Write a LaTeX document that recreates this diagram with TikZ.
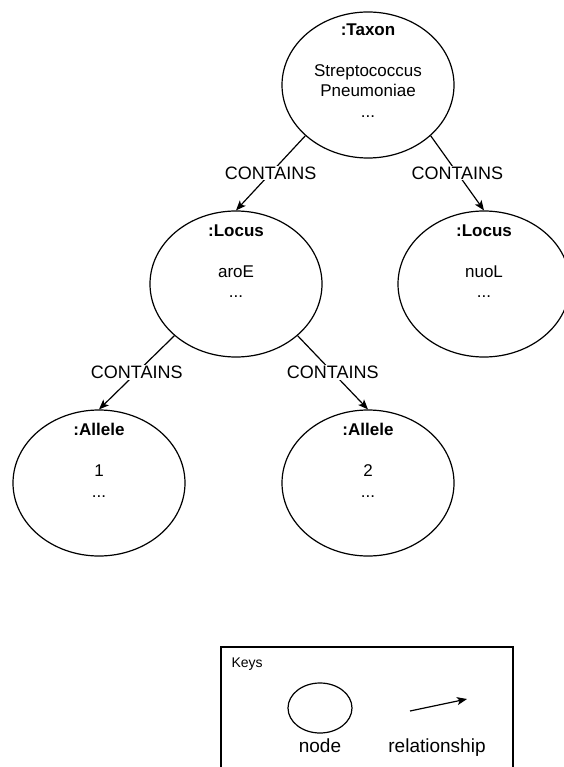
\documentclass[tikz,border=0pt]{standalone}
\usepackage{fontspec}
\setmainfont{Liberation Sans}
\usetikzlibrary{arrows.meta,shapes.geometric,positioning}

\begin{document}
\begin{tikzpicture}[
    x=1pt, y=-1pt,
    entity/.style={draw, ellipse, line width=1.2pt, minimum width=172pt,
    minimum height=146pt, inner sep=0pt},
    entity text/.style={align=center, inner sep=0pt,
    font=\fontsize{17}{20.5}\selectfont},
    rel/.style={line width=1.2pt, ->, >={Stealth[length=10pt, width=8pt, inset=2.5pt]}},
    rel label/.style={fill=white, inner sep=1pt, font=\fontsize{18}{21}\selectfont},
    key label/.style={inner sep=0pt, font=\fontsize{19}{22}\selectfont},
    every node/.style={color=black}
    ]
    \useasboundingbox (0,0) rectangle (563,767);

    % nodes
    \node[entity] (taxon) at (368,85) {};
    \node[entity] (locusA) at (236,284) {};
    \node[entity] (locusB) at (484,284) {};
    \node[entity] (alleleA) at (99,483) {};
    \node[entity] (alleleB) at (368,483) {};

    \node[entity text, below=12pt of taxon.north] (taxontext)
        {\textbf{:Taxon}\\[20.5pt]Streptococcus\\Pneumoniae\\...};
    \node[entity text, below=14pt of locusA.north] (locusAtext)
        {\textbf{:Locus}\\[20.5pt]aroE\\...};
    \node[entity text, below=14pt of locusB.north] (locusBtext)
        {\textbf{:Locus}\\[20.5pt]nuoL\\...};
    \node[entity text, below=14pt of alleleA.north] (alleleAtext)
        {\textbf{:Allele}\\[20.5pt]1\\...};
    \node[entity text, below=14pt of alleleB.north] (alleleBtext)
        {\textbf{:Allele}\\[20.5pt]2\\...};

    % relationships
    \draw[rel] (taxon.219) -- node[rel label] (contains1) {CONTAINS} (locusA.north);
    \draw[rel] (taxon.321) -- node[rel label] (contains2) {CONTAINS} (locusB.north);
    \draw[rel] (locusA.220) -- node[rel label] (contains3) {CONTAINS} (alleleA.north);
    \draw[rel] (locusA.320) -- node[rel label] (contains4) {CONTAINS} (alleleB.north);

    % keys
    \node[draw, line width=1.2pt, minimum width=292pt, minimum height=140pt,
        inner sep=0pt] (keys) at (367,717) {};
    \node[anchor=base west, inner sep=0pt, font=\fontsize{14}{16}\selectfont]
        (keystitle) at ([shift={(11,21)}]keys.north west) {Keys};
    \node[draw, ellipse, line width=1.2pt, minimum width=64pt, minimum height=50pt,
        inner sep=0pt] (keynode) at (320,708) {};
    \node[key label, anchor=base] (nodelabel) at ([yshift=-19pt]keynode.south) {node};
    \coordinate (relstart) at (410,711);
    \coordinate (relend) at (467,699);
    \draw[rel] (relstart) -- (relend);
    \node[key label, anchor=base] (rellabel) at (437,752) {relationship};

\end{tikzpicture}
\end{document}
